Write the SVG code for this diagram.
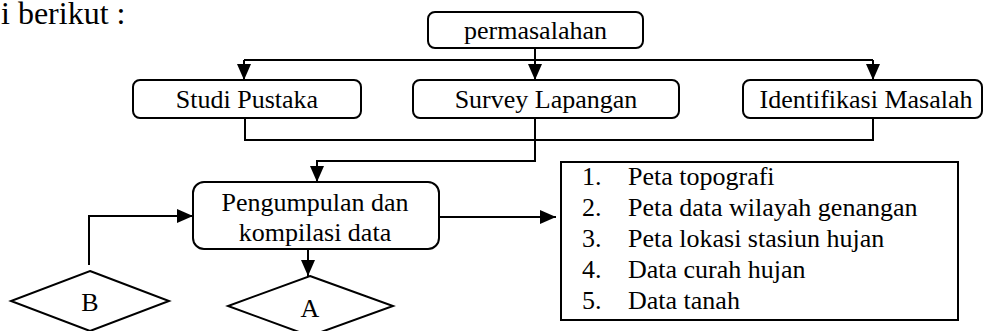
<svg xmlns="http://www.w3.org/2000/svg" width="984" height="331" viewBox="0 0 984 331">
<style>
.box{fill:#fff;stroke:#000;stroke-width:2}
.ln{fill:none;stroke:#000;stroke-width:2}
.ar{fill:none;stroke:#000;stroke-width:2;marker-end:url(#ah)}
text{font-family:"Liberation Serif","Times New Roman",serif;font-size:26px;fill:#000}
.c{text-anchor:middle}
</style>
<defs>
<marker id="ah" viewBox="0 0 16 14" refX="16" refY="7" markerWidth="16" markerHeight="14" markerUnits="userSpaceOnUse" orient="auto">
<path d="M0,0 L16,7 L0,14 z" fill="#000"/>
</marker>
</defs>
<rect width="984" height="331" fill="#fff"/>
<text x="1" y="24" style="font-size:32px">i berikut :</text>
<g id="connectors">
<path class="ar" d="M535,48 V80"/>
<path class="ln" d="M244,60 H873"/>
<path class="ar" d="M244,60 V80"/>
<path class="ar" d="M873,60 V80"/>
<path class="ln" d="M245,118 V140 H873 V118"/>
<path class="ar" d="M535,118 V161 H317 V182"/>
<path class="ar" d="M439,217 H556"/>
<path class="ar" d="M89,265 V216 H193"/>
<path class="ar" d="M308,249 V276"/>
</g>
<g id="permasalahan">
<rect class="box" x="428" y="12" width="215" height="36" rx="7"/>
<text class="c" x="535.5" y="39">permasalahan</text>
</g>
<g id="studi">
<rect class="box" x="133" y="80" width="228" height="38" rx="7"/>
<text class="c" x="247" y="108">Studi Pustaka</text>
</g>
<g id="survey">
<rect class="box" x="413" y="80" width="266" height="38" rx="7"/>
<text class="c" x="546" y="108">Survey Lapangan</text>
</g>
<g id="identifikasi">
<rect class="box" x="743" y="80" width="239" height="38" rx="7"/>
<text class="c" x="866" y="108">Identifikasi Masalah</text>
</g>
<g id="pengumpulan">
<rect class="box" x="193" y="182" width="246" height="67" rx="11"/>
<text class="c" x="315" y="211">Pengumpulan dan</text>
<text class="c" x="315" y="241">kompilasi data</text>
</g>
<g id="list">
<rect class="box" x="561" y="162" width="397" height="158"/>
<text x="582" y="185">1.</text><text x="628" y="185">Peta topografi</text>
<text x="582" y="216">2.</text><text x="628" y="216">Peta data wilayah genangan</text>
<text x="582" y="247">3.</text><text x="628" y="247">Peta lokasi stasiun hujan</text>
<text x="582" y="278">4.</text><text x="628" y="278">Data curah hujan</text>
<text x="582" y="309">5.</text><text x="628" y="309">Data tanah</text>
</g>
<g id="B">
<polygon class="box" points="90,271 169,301 90,331 11,301"/>
<text class="c" x="90" y="311">B</text>
</g>
<g id="A">
<polygon class="box" points="310,276 393,306 310,336 228,306"/>
<text class="c" x="310" y="317">A</text>
</g>
</svg>
